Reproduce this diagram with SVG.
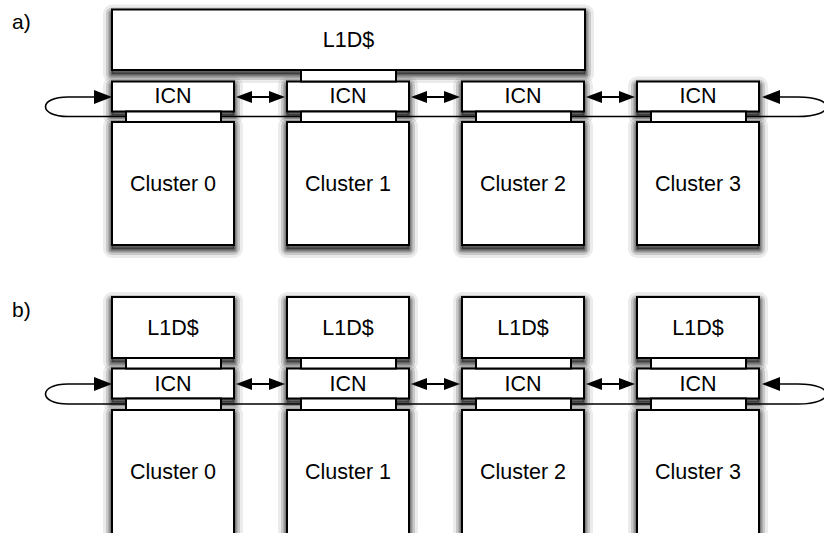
<svg xmlns="http://www.w3.org/2000/svg" xmlns:xlink="http://www.w3.org/1999/xlink" width="824" height="533" viewBox="0 0 824 533">
  <style>
    .box { fill: #fff; stroke: #000; stroke-width: 2; }
    .link { fill: #fff; stroke: #000; stroke-width: 2; }
    .lbl { font-family: "Liberation Sans", Arial, sans-serif; font-size: 21.5px; text-anchor: middle; fill: #000; }
    .tag { font-family: "Liberation Sans", Arial, sans-serif; font-size: 21px; fill: #000; }
    .ring { fill: none; stroke: #000; stroke-width: 1.6; marker-start: url(#loopHead); marker-end: url(#loopHead); }
    .bi { fill: none; stroke: #000; stroke-width: 2; marker-start: url(#biHead); marker-end: url(#biHead); }
    /* soft drop shadow built from stacked translucent outlines */
    .s0 { fill: #000; fill-opacity: 0.35; stroke: none; }
    .s1 { fill: none; stroke: #000; stroke-opacity: 0.35; stroke-width: 3; stroke-linejoin: round; }
    .s2 { fill: none; stroke: #000; stroke-opacity: 0.25; stroke-width: 7; stroke-linejoin: round; }
    .s3 { fill: none; stroke: #000; stroke-opacity: 0.15; stroke-width: 12; stroke-linejoin: round; }
    .s4 { fill: none; stroke: #000; stroke-opacity: 0.08; stroke-width: 18; stroke-linejoin: round; }
  </style>
  <defs>
    <marker id="loopHead" markerUnits="userSpaceOnUse" markerWidth="18" markerHeight="14" refX="0" refY="7" orient="auto-start-reverse">
      <path d="M0,0 L18,7 L0,14 z" fill="#000"/>
    </marker>
    <marker id="biHead" markerUnits="userSpaceOnUse" markerWidth="16" markerHeight="12" refX="0" refY="6" orient="auto-start-reverse">
      <path d="M0,0 L16,6 L0,12 z" fill="#000"/>
    </marker>
    <g id="shBig">
      <rect class="s4" width="473" height="60.5"/><rect class="s3" width="473" height="60.5"/>
      <rect class="s2" width="473" height="60.5"/><rect class="s1" width="473" height="60.5"/>
      <rect class="s0" width="473" height="60.5"/>
    </g>
    <g id="shIcn">
      <rect class="s4" width="122" height="30"/><rect class="s3" width="122" height="30"/>
      <rect class="s2" width="122" height="30"/><rect class="s1" width="122" height="30"/>
      <rect class="s0" width="122" height="30"/>
    </g>
    <g id="shCl">
      <rect class="s4" width="122" height="123"/><rect class="s3" width="122" height="123"/>
      <rect class="s2" width="122" height="123"/><rect class="s1" width="122" height="123"/>
      <rect class="s0" width="122" height="123"/>
    </g>
    <g id="shL1">
      <rect class="s4" width="122" height="61"/><rect class="s3" width="122" height="61"/>
      <rect class="s2" width="122" height="61"/><rect class="s1" width="122" height="61"/>
      <rect class="s0" width="122" height="61"/>
    </g>
  </defs>

  <rect width="824" height="533" fill="#fff"/>

  <text class="tag" x="12" y="29">a)</text>
  <text class="tag" x="12" y="317">b)</text>

  <!-- drop shadows under every block -->
  <g id="shadows">
    <use xlink:href="#shBig" x="112" y="13.5"/>
    <use xlink:href="#shIcn" x="112" y="85.5"/>
    <use xlink:href="#shIcn" x="287" y="85.5"/>
    <use xlink:href="#shIcn" x="462" y="85.5"/>
    <use xlink:href="#shIcn" x="637" y="85.5"/>
    <use xlink:href="#shCl" x="112" y="126"/>
    <use xlink:href="#shCl" x="287" y="126"/>
    <use xlink:href="#shCl" x="462" y="126"/>
    <use xlink:href="#shCl" x="637" y="126"/>
    <use xlink:href="#shL1" x="112" y="301"/>
    <use xlink:href="#shL1" x="287" y="301"/>
    <use xlink:href="#shL1" x="462" y="301"/>
    <use xlink:href="#shL1" x="637" y="301"/>
    <use xlink:href="#shIcn" x="112" y="372.5"/>
    <use xlink:href="#shIcn" x="287" y="372.5"/>
    <use xlink:href="#shIcn" x="462" y="372.5"/>
    <use xlink:href="#shIcn" x="637" y="372.5"/>
    <use xlink:href="#shCl" x="112" y="414"/>
    <use xlink:href="#shCl" x="287" y="414"/>
    <use xlink:href="#shCl" x="462" y="414"/>
    <use xlink:href="#shCl" x="637" y="414"/>
  </g>

  <!-- interconnect: ring lines and neighbour links -->
  <g id="connectors">
    <path class="ring" d="M94,97 H68 C38,97 38,116.5 68,116.5 H798 C836,116.5 836,97 798,97 H780"/>
    <path class="bi" d="M252,97 H269"/>
    <path class="bi" d="M427,97 H444"/>
    <path class="bi" d="M602,97 H619"/>

    <path class="ring" d="M94,384 H68 C38,384 38,404 68,404 H798 C836,404 836,384 798,384 H780"/>
    <path class="bi" d="M252,384 H269"/>
    <path class="bi" d="M427,384 H444"/>
    <path class="bi" d="M602,384 H619"/>
  </g>

  <!-- a) shared L1 data cache -->
  <g id="a-l1d">
    <rect class="box" x="112" y="9.5" width="473" height="60.5"/>
    <text class="lbl" x="348.5" y="47">L1D$</text>
  </g>
  <g id="a-icn0"><rect class="box" x="112" y="81.5" width="122" height="30"/><text class="lbl" x="173" y="103">ICN</text></g>
  <g id="a-icn1"><rect class="box" x="287" y="81.5" width="122" height="30"/><text class="lbl" x="348" y="103">ICN</text></g>
  <g id="a-icn2"><rect class="box" x="462" y="81.5" width="122" height="30"/><text class="lbl" x="523" y="103">ICN</text></g>
  <g id="a-icn3"><rect class="box" x="637" y="81.5" width="122" height="30"/><text class="lbl" x="698" y="103">ICN</text></g>
  <g id="a-ports">
    <rect class="link" x="301" y="70" width="95" height="11.5"/>
    <rect class="link" x="126" y="111.5" width="95" height="10.5"/>
    <rect class="link" x="301" y="111.5" width="95" height="10.5"/>
    <rect class="link" x="476" y="111.5" width="95" height="10.5"/>
    <rect class="link" x="651" y="111.5" width="95" height="10.5"/>
  </g>
  <g id="a-cluster0"><rect class="box" x="112" y="122" width="122" height="123"/><text class="lbl" x="173" y="191">Cluster 0</text></g>
  <g id="a-cluster1"><rect class="box" x="287" y="122" width="122" height="123"/><text class="lbl" x="348" y="191">Cluster 1</text></g>
  <g id="a-cluster2"><rect class="box" x="462" y="122" width="122" height="123"/><text class="lbl" x="523" y="191">Cluster 2</text></g>
  <g id="a-cluster3"><rect class="box" x="637" y="122" width="122" height="123"/><text class="lbl" x="698" y="191">Cluster 3</text></g>

  <!-- b) private L1 data cache per cluster -->
  <g id="b-l1d0"><rect class="box" x="112" y="297" width="122" height="61"/><text class="lbl" x="173" y="334.5">L1D$</text></g>
  <g id="b-l1d1"><rect class="box" x="287" y="297" width="122" height="61"/><text class="lbl" x="348" y="334.5">L1D$</text></g>
  <g id="b-l1d2"><rect class="box" x="462" y="297" width="122" height="61"/><text class="lbl" x="523" y="334.5">L1D$</text></g>
  <g id="b-l1d3"><rect class="box" x="637" y="297" width="122" height="61"/><text class="lbl" x="698" y="334.5">L1D$</text></g>
  <g id="b-icn0"><rect class="box" x="112" y="368.5" width="122" height="30"/><text class="lbl" x="173" y="390.5">ICN</text></g>
  <g id="b-icn1"><rect class="box" x="287" y="368.5" width="122" height="30"/><text class="lbl" x="348" y="390.5">ICN</text></g>
  <g id="b-icn2"><rect class="box" x="462" y="368.5" width="122" height="30"/><text class="lbl" x="523" y="390.5">ICN</text></g>
  <g id="b-icn3"><rect class="box" x="637" y="368.5" width="122" height="30"/><text class="lbl" x="698" y="390.5">ICN</text></g>
  <g id="b-ports">
    <rect class="link" x="126" y="358" width="95" height="10.5"/>
    <rect class="link" x="301" y="358" width="95" height="10.5"/>
    <rect class="link" x="476" y="358" width="95" height="10.5"/>
    <rect class="link" x="651" y="358" width="95" height="10.5"/>
    <rect class="link" x="126" y="398.5" width="95" height="11.5"/>
    <rect class="link" x="301" y="398.5" width="95" height="11.5"/>
    <rect class="link" x="476" y="398.5" width="95" height="11.5"/>
    <rect class="link" x="651" y="398.5" width="95" height="11.5"/>
  </g>
  <g id="b-cluster0"><rect class="box" x="112" y="410" width="122" height="126"/><text class="lbl" x="173" y="479">Cluster 0</text></g>
  <g id="b-cluster1"><rect class="box" x="287" y="410" width="122" height="126"/><text class="lbl" x="348" y="479">Cluster 1</text></g>
  <g id="b-cluster2"><rect class="box" x="462" y="410" width="122" height="126"/><text class="lbl" x="523" y="479">Cluster 2</text></g>
  <g id="b-cluster3"><rect class="box" x="637" y="410" width="122" height="126"/><text class="lbl" x="698" y="479">Cluster 3</text></g>
</svg>
